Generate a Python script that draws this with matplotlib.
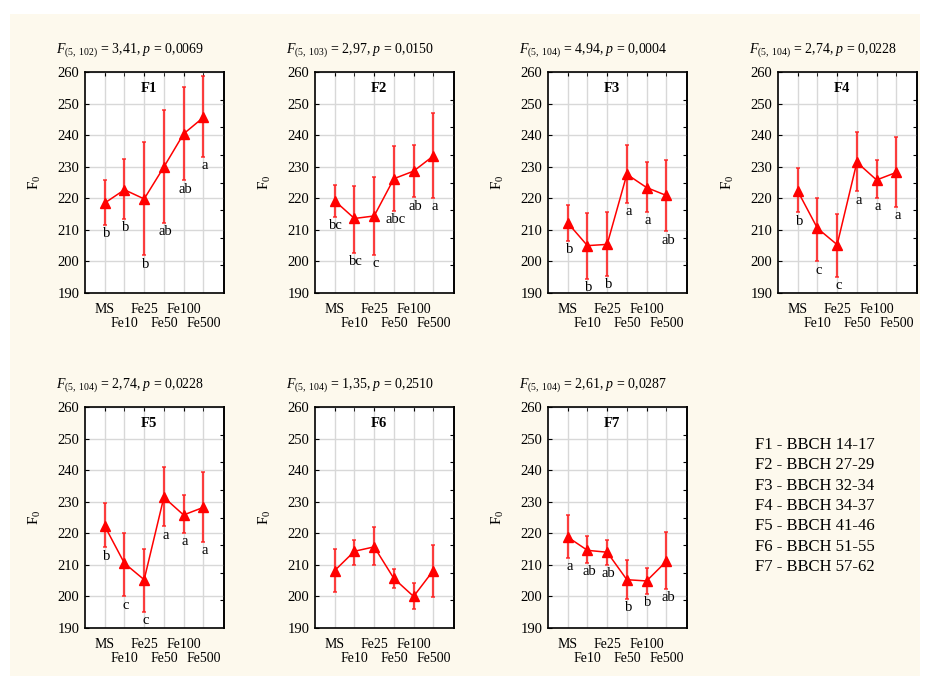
import matplotlib
matplotlib.use("Agg")
import matplotlib.pyplot as plt
from matplotlib.patches import Rectangle

plt.rcParams['font.family'] = ['Liberation Serif', 'DejaVu Serif']
plt.rcParams['mathtext.fontset'] = 'custom'
plt.rcParams['mathtext.rm'] = 'Liberation Serif'
plt.rcParams['mathtext.it'] = 'Liberation Serif:italic'
plt.rcParams['mathtext.bf'] = 'Liberation Serif:bold'

# Treatments (x axis)
groups = ['MS', 'Fe10', 'Fe25', 'Fe50', 'Fe100', 'Fe500']

# Mean F0 per phase, with upper and lower ends of the error bars
f1_mean = [218.5, 222.7, 219.8, 229.9, 240.4, 245.6]
f1_high = [225.7, 232.3, 237.8, 248.0, 255.2, 258.8]
f1_low = [211.6, 213.4, 201.9, 212.2, 225.7, 233.1]
f1_letters = ['b', 'b', 'b', 'ab', 'ab', 'a']

f2_mean = [219.2, 213.6, 214.4, 226.2, 228.6, 233.4]
f2_high = [224.3, 223.8, 226.6, 236.5, 236.9, 247.0]
f2_low = [214.0, 202.7, 202.1, 215.9, 220.3, 220.1]
f2_letters = ['bc', 'bc', 'c', 'abc', 'ab', 'a']

f3_mean = [212.2, 205.0, 205.4, 227.6, 223.4, 220.9]
f3_high = [218.0, 215.3, 215.5, 237.0, 231.5, 232.2]
f3_low = [206.5, 194.5, 195.5, 218.5, 215.7, 209.5]
f3_letters = ['b', 'b', 'b', 'a', 'a', 'ab']

f4_mean = [222.3, 210.5, 205.3, 231.4, 225.8, 228.2]
f4_high = [229.5, 220.0, 215.0, 241.0, 232.1, 239.4]
f4_low = [215.5, 200.0, 195.0, 222.2, 220.0, 217.3]
f4_letters = ['b', 'c', 'c', 'a', 'a', 'a']

f5_mean = [222.3, 210.5, 205.3, 231.4, 225.8, 228.2]
f5_high = [229.5, 220.0, 215.0, 241.0, 232.1, 239.4]
f5_low = [215.5, 200.0, 195.0, 222.2, 220.0, 217.3]
f5_letters = ['b', 'c', 'c', 'a', 'a', 'a']

f6_mean = [208.2, 214.3, 215.7, 205.7, 200.0, 208.2]
f6_high = [215.0, 217.8, 221.9, 208.8, 204.3, 216.4]
f6_low = [201.5, 210.0, 209.8, 202.7, 196.0, 199.9]
f6_letters = ['', '', '', '', '', '']

f7_mean = [218.8, 214.6, 214.0, 205.3, 204.9, 211.1]
f7_high = [225.7, 219.0, 218.0, 211.4, 209.1, 220.3]
f7_low = [212.2, 210.6, 210.1, 199.2, 200.9, 202.4]
f7_letters = ['a', 'ab', 'ab', 'b', 'b', 'ab']

# ANOVA result above each panel: (df, F, p)
anova = [('5, 102', '3,41', '0,0069'),
         ('5, 103', '2,97', '0,0150'),
         ('5, 104', '4,94', '0,0004'),
         ('5, 104', '2,74', '0,0228'),
         ('5, 104', '2,74', '0,0228'),
         ('5, 104', '1,35', '0,2510'),
         ('5, 104', '2,61', '0,0287')]

phases = ['F1 - BBCH 14-17', 'F2 - BBCH 27-29', 'F3 - BBCH 32-34',
          'F4 - BBCH 34-37', 'F5 - BBCH 41-46', 'F6 - BBCH 51-55',
          'F7 - BBCH 57-62']

panels = [('F1', f1_mean, f1_high, f1_low, f1_letters),
          ('F2', f2_mean, f2_high, f2_low, f2_letters),
          ('F3', f3_mean, f3_high, f3_low, f3_letters),
          ('F4', f4_mean, f4_high, f4_low, f4_letters),
          ('F5', f5_mean, f5_high, f5_low, f5_letters),
          ('F6', f6_mean, f6_high, f6_low, f6_letters),
          ('F7', f7_mean, f7_high, f7_low, f7_letters)]

W, H = 930, 686
fig = plt.figure(figsize=(W / 100, H / 100), dpi=100)
fig.patch.set_facecolor('white')
fig.patches.append(Rectangle((10 / W, 10 / H), 910 / W, 662 / H,
                             transform=fig.transFigure, facecolor='#fdf9ed',
                             edgecolor='none', zorder=-10))

# axes boxes in pixels: left, top
lefts = [85, 315, 548, 778, 85, 315, 548]
tops = [72, 72, 72, 72, 407, 407, 407]
aw, ah = 139, 221

x = list(range(len(groups)))
right_ticks = [190 + 70 * i / 8 for i in range(1, 8)]

for k, (name, mean, high, low, letters) in enumerate(panels):
    ax = fig.add_axes([lefts[k] / W, 1 - (tops[k] + ah) / H, aw / W, ah / H])
    ax.set_facecolor('white')
    ax.set_xlim(-1, 6.05)
    ax.set_ylim(190, 260)
    ax.set_yticks(range(190, 261, 10))
    # labels alternate between two rows: even groups on top, odd ones below
    ax.set_xticks(x[0::2])
    ax.set_xticklabels(groups[0::2], fontsize=10)
    ax.set_xticks(x[1::2], minor=True)
    ax.set_xticklabels(groups[1::2], minor=True, fontsize=10)
    ax.tick_params(axis='y', labelsize=10.5, direction='in', length=3, pad=4)
    ax.tick_params(axis='x', which='both', direction='in', length=3, top=True,
                   bottom=False)
    ax.tick_params(axis='x', which='major', pad=7.5)
    ax.tick_params(axis='x', which='minor', pad=17)
    ax.grid(True, color='#d8d8d8', linewidth=1)
    ax.grid(True, which='minor', axis='x', color='#d8d8d8', linewidth=1)
    ax.set_axisbelow(True)
    for s in ax.spines.values():
        s.set_linewidth(1.2)

    # unlabelled scale on the right spine
    sec = ax.secondary_yaxis('right')
    sec.set_yticks(right_ticks)
    sec.tick_params(direction='in', length=3, labelright=False)
    sec.spines['right'].set_linewidth(1.2)

    yerr = [[m - l for m, l in zip(mean, low)], [h - m for m, h in zip(mean, high)]]
    ax.errorbar(x, mean, yerr=yerr, fmt='none', ecolor='#ff2020', elinewidth=1.6,
                capsize=1.5, capthick=1.2, alpha=0.85, zorder=3)
    ax.plot(x, mean, color='red', linewidth=1.1, marker='^', markersize=7.5,
            markeredgecolor='red', zorder=4)
    for xi, lo, lt in zip(x, low, letters):
        ax.text(xi + 0.08, lo - 0.7, lt, ha='center', va='top', fontsize=10.5)

    ax.text(0.46, 0.925, name, transform=ax.transAxes, ha='center', va='center',
            fontsize=10.5, fontweight='bold')
    ax.set_ylabel(r'$\mathrm{F}_0$', fontsize=11)
    ax.yaxis.set_label_coords(-0.30, 0.5)

    df, fval, pval = anova[k]
    ax.annotate(r'$F_{\mathrm{(%s)}}$ = %s, $p$ = %s' % (df.replace(' ', r'\ '), fval, pval),
                xy=(0.5, 1), xycoords='axes fraction', xytext=(-24, 22),
                textcoords='offset pixels', ha='center', va='center', fontsize=10)

fig.text(755 / W, 1 - 437 / H, '\n'.join(phases), ha='left', va='top',
         fontsize=12, linespacing=1.36)

fig.savefig('out.png', dpi=100, facecolor=fig.get_facecolor())
